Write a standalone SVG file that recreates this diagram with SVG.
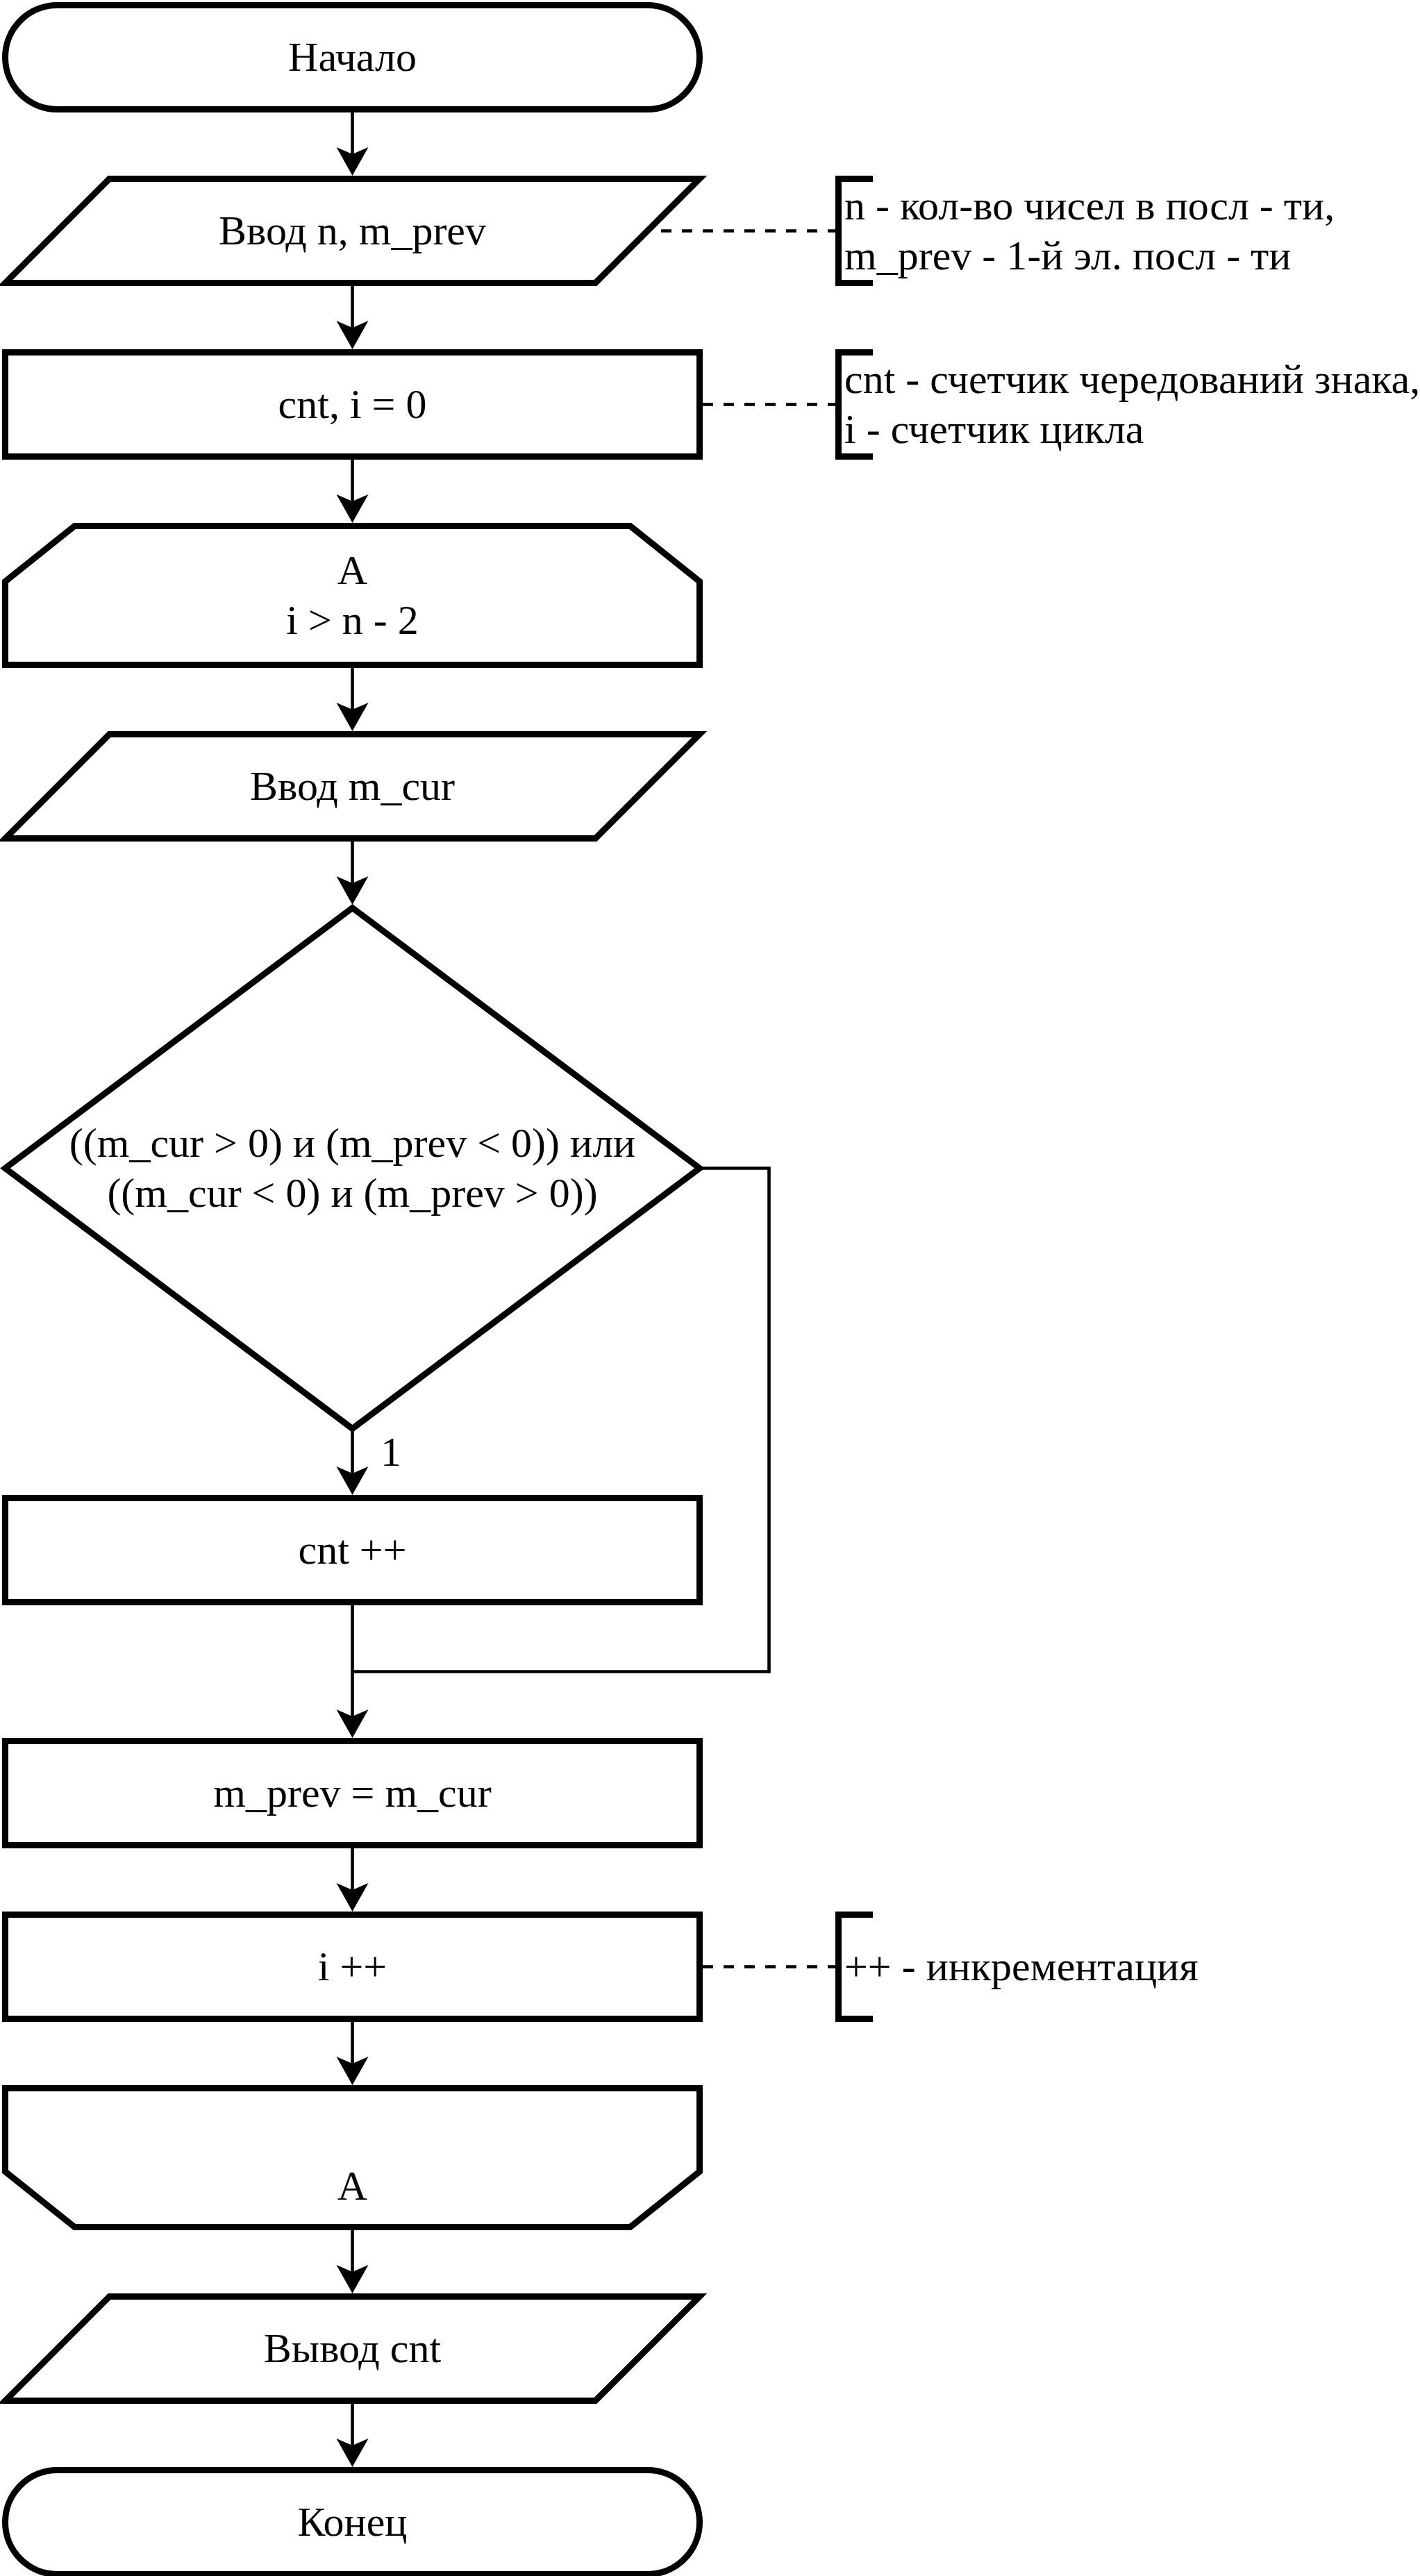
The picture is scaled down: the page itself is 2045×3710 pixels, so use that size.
<svg xmlns="http://www.w3.org/2000/svg" width="2045" height="3710" viewBox="0 0 2045 3710">
<style>
.s{fill:#fff;stroke:#000;stroke-width:9;stroke-linejoin:miter;stroke-miterlimit:10}
.t{font-family:"Liberation Serif","Times New Roman",serif;font-size:60px;fill:#000;text-anchor:middle}
.a{font-family:"Liberation Serif","Times New Roman",serif;font-size:60px;fill:#000;text-anchor:start}
.c{fill:none;stroke:#000;stroke-width:4.6}
.d{fill:none;stroke:#000;stroke-width:4.6;stroke-dasharray:15 15}
.b{fill:none;stroke:#000;stroke-width:9;stroke-linejoin:miter}
</style>
<defs>
<marker id="arr" markerUnits="userSpaceOnUse" markerWidth="50" markerHeight="50" refX="10" refY="23" orient="auto">
<path d="M41,23 L0,0 L10,23 L0,46 Z" fill="#000"/>
</marker>
</defs>
<rect width="2045" height="3710" fill="#fff"/>
<g id="connectors">
<path class="c" d="M507.5,157.5 V222" marker-end="url(#arr)"/>
<path class="c" d="M507.5,407.5 V472" marker-end="url(#arr)"/>
<path class="c" d="M507.5,657.5 V722" marker-end="url(#arr)"/>
<path class="c" d="M507.5,957.5 V1022" marker-end="url(#arr)"/>
<path class="c" d="M507.5,1207.5 V1272" marker-end="url(#arr)"/>
<path class="c" d="M507.5,2057.5 V2122" marker-end="url(#arr)"/>
<path class="c" d="M507.5,2307.5 V2472" marker-end="url(#arr)"/>
<path class="c" d="M507.5,2657.5 V2722" marker-end="url(#arr)"/>
<path class="c" d="M507.5,2907.5 V2972" marker-end="url(#arr)"/>
<path class="c" d="M507.5,3207.5 V3272" marker-end="url(#arr)"/>
<path class="c" d="M507.5,3457.5 V3522" marker-end="url(#arr)"/>
<path class="c" d="M1007.5,1682.5 H1107.5 V2407.5 H507.5"/>
<text class="a" x="548" y="2111">1</text>
<path class="d" d="M952,332.5 H1207"/>
<path class="d" d="M1012,582.5 H1207"/>
<path class="d" d="M1012,2832.5 H1207"/>
</g>
<g id="start">
<rect class="s" x="7.5" y="7.5" width="1000" height="150" rx="75" ry="75"/>
<text class="t" x="507.5" y="102">Начало</text>
</g>
<g id="input1">
<polygon class="s" points="157.5,257.5 1007.5,257.5 857.5,407.5 7.5,407.5"/>
<text class="t" x="507.5" y="352">Ввод n, m_prev</text>
</g>
<g id="note1">
<path class="b" d="M1257,257.5 H1207.5 V407.5 H1257"/>
<text class="a" x="1216" y="316">n - кол-во чисел в посл - ти,</text>
<text class="a" x="1216" y="388">m_prev - 1-й эл. посл - ти</text>
</g>
<g id="init">
<rect class="s" x="7.5" y="507.5" width="1000" height="150"/>
<text class="t" x="507.5" y="602">cnt, i = 0</text>
</g>
<g id="note2">
<path class="b" d="M1257,507.5 H1207.5 V657.5 H1257"/>
<text class="a" x="1216" y="566">cnt - счетчик чередований знака,</text>
<text class="a" x="1216" y="638">i - счетчик цикла</text>
</g>
<g id="loopstart">
<polygon class="s" points="107.5,757.5 907.5,757.5 1007.5,837.5 1007.5,957.5 7.5,957.5 7.5,837.5"/>
<text class="t" x="507.5" y="841">A</text>
<text class="t" x="507.5" y="913">i &gt; n - 2</text>
</g>
<g id="input2">
<polygon class="s" points="157.5,1057.5 1007.5,1057.5 857.5,1207.5 7.5,1207.5"/>
<text class="t" x="507.5" y="1152">Ввод m_cur</text>
</g>
<g id="decision">
<polygon class="s" points="507.5,1307.5 1007.5,1682.5 507.5,2057.5 7.5,1682.5"/>
<text class="t" x="507.5" y="1666">((m_cur &gt; 0) и (m_prev &lt; 0)) или</text>
<text class="t" x="507.5" y="1738">((m_cur &lt; 0) и (m_prev &gt; 0))</text>
</g>
<g id="inc-cnt">
<rect class="s" x="7.5" y="2157.5" width="1000" height="150"/>
<text class="t" x="507.5" y="2252">cnt ++</text>
</g>
<g id="assign">
<rect class="s" x="7.5" y="2507.5" width="1000" height="150"/>
<text class="t" x="507.5" y="2602">m_prev = m_cur</text>
</g>
<g id="inc-i">
<rect class="s" x="7.5" y="2757.5" width="1000" height="150"/>
<text class="t" x="507.5" y="2852">i ++</text>
</g>
<g id="note3">
<path class="b" d="M1257,2757.5 H1207.5 V2907.5 H1257"/>
<text class="a" x="1216" y="2852">++ - инкрементация</text>
</g>
<g id="loopend">
<polygon class="s" points="7.5,3007.5 1007.5,3007.5 1007.5,3127.5 907.5,3207.5 107.5,3207.5 7.5,3127.5"/>
<text class="t" x="507.5" y="3168">A</text>
</g>
<g id="output">
<polygon class="s" points="157.5,3307.5 1007.5,3307.5 857.5,3457.5 7.5,3457.5"/>
<text class="t" x="507.5" y="3402">Вывод cnt</text>
</g>
<g id="end">
<rect class="s" x="7.5" y="3557.5" width="1000" height="150" rx="75" ry="75"/>
<text class="t" x="507.5" y="3652">Конец</text>
</g>
</svg>
